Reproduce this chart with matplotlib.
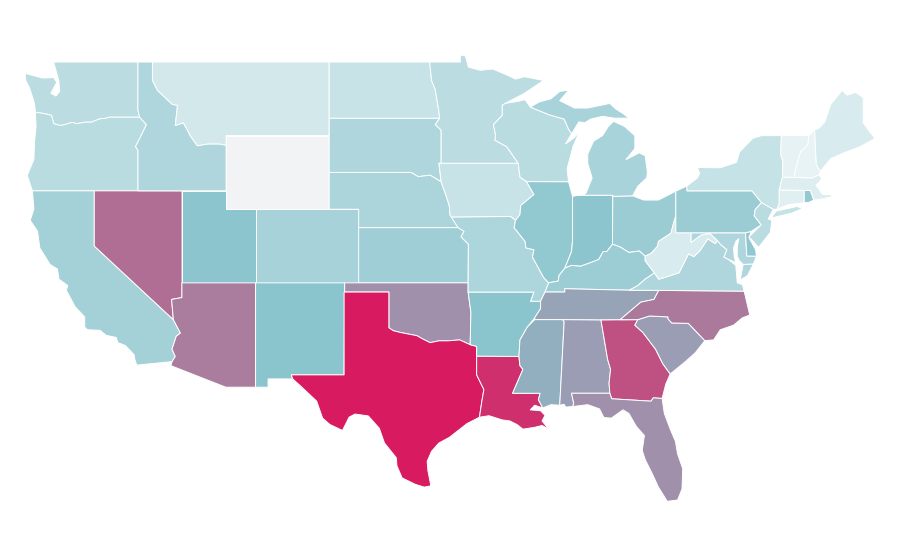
#%% Import modules
import numpy as np
import matplotlib.pyplot as plt
from matplotlib.collections import PolyCollection
from matplotlib.colors import LinearSegmentedColormap, Normalize

#%% Values (Wyoming has no data)
states = ['WA', 'OR', 'CA', 'NV', 'ID', 'MT', 'WY', 'UT', 'CO', 'AZ', 'NM', 'ND',
          'SD', 'NE', 'KS', 'OK', 'TX', 'LA', 'AR', 'MO', 'IA', 'MN', 'WI', 'IL',
          'IN', 'OH', 'MI', 'KY', 'TN', 'MS', 'AL', 'GA', 'FL', 'SC', 'NC', 'VA',
          'WV', 'MD', 'DE', 'PA', 'NJ', 'NY', 'CT', 'RI', 'MA', 'VT', 'NH', 'ME']
values = [25, 26, 36, 75, 31, 14, np.nan, 48, 35, 71, 49, 19,
          31, 33, 39, 65, 100, 94, 49, 32, 19, 25, 26, 45,
          48, 41, 34, 40, 59, 56, 61, 84, 65, 61, 72, 31,
          11, 31, 46, 41, 26, 20, 7, 44, 8, 4, 3, 11]

#%% State outlines, lon/lat
outlines = {
    'WA': [[(-124.7,48.38),(-123.5,48.13),(-122.75,48.15),(-122.55,47.9),(-122.95,47.3),(-122.6,47.15),(-122.35,47.4),(-122.4,47.95),(-122.55,48.4),(-122.76,49),(-117.03,49),(-117.04,46.42),(-116.92,46),(-118.98,46),(-119.3,45.93),(-119.6,45.92),(-120.2,45.73),(-120.65,45.73),(-121.2,45.65),(-121.5,45.72),(-122,45.6),(-122.3,45.55),(-122.75,45.65),(-122.9,46.1),(-123.4,46.2),(-124,46.27),(-124.05,46.7),(-124.15,47),(-124.4,47.6),(-124.65,48)]],
    'OR': [[(-124,46.27),(-123.4,46.2),(-122.9,46.1),(-122.75,45.65),(-122.3,45.55),(-122,45.6),(-121.5,45.72),(-121.2,45.65),(-120.65,45.73),(-120.2,45.73),(-119.6,45.92),(-119.3,45.93),(-118.98,46),(-116.92,46),(-116.46,45.6),(-116.85,44.95),(-117.2,44.4),(-117.03,44.2),(-117.03,42),(-124.2,42),(-124.55,42.84),(-124.1,43.7),(-124.05,44.7),(-123.95,45.5)]],
    'CA': [[(-124.2,42),(-120,42),(-120,39),(-114.63,35),(-114.15,34.27),(-114.43,34.1),(-114.72,33.4),(-114.5,33),(-114.72,32.72),(-117.12,32.53),(-117.25,32.85),(-117.3,33.1),(-117.9,33.6),(-118.4,33.75),(-118.5,34.03),(-119.2,34.15),(-119.6,34.42),(-120.47,34.45),(-120.65,34.6),(-120.65,35.15),(-121.3,35.7),(-121.9,36.6),(-121.8,36.85),(-122.4,37.2),(-122.5,37.75),(-123,38),(-123.7,38.9),(-123.85,39.8),(-124.35,40.4),(-124.1,41)]],
    'NV': [[(-120,42),(-114.04,42),(-114.04,37),(-114.05,36.2),(-114.75,36.1),(-114.63,35),(-120,39)]],
    'ID': [[(-117.03,49),(-116.05,49),(-116.05,48),(-115.7,47.45),(-114.7,46.7),(-114.35,46.65),(-114.5,45.55),(-113.95,45.7),(-113.45,44.95),(-113,44.45),(-112.3,44.55),(-111.5,44.55),(-111.05,44.48),(-111.05,42),(-117.03,42),(-117.03,44.2),(-117.2,44.4),(-116.85,44.95),(-116.46,45.6),(-116.92,46),(-117.04,46.42)]],
    'MT': [[(-116.05,49),(-104.05,49),(-104.05,45),(-111.05,45),(-111.05,44.48),(-111.5,44.55),(-112.3,44.55),(-113,44.45),(-113.45,44.95),(-113.95,45.7),(-114.5,45.55),(-114.35,46.65),(-114.7,46.7),(-115.7,47.45),(-116.05,48)]],
    'WY': [[(-111.05,45),(-104.05,45),(-104.05,41),(-111.05,41)]],
    'UT': [[(-114.05,42),(-111.05,42),(-111.05,41),(-109.05,41),(-109.05,37),(-114.05,37)]],
    'CO': [[(-109.05,41),(-102.05,41),(-102.05,37),(-109.05,37)]],
    'AZ': [[(-114.05,37),(-109.05,37),(-109.05,31.33),(-111.07,31.33),(-114.8,32.5),(-114.72,32.72),(-114.5,33),(-114.72,33.4),(-114.43,34.1),(-114.15,34.27),(-114.63,35),(-114.75,36.1),(-114.05,36.2)]],
    'NM': [[(-109.05,37),(-103,37),(-103.04,32),(-106.62,32),(-106.53,31.78),(-108.2,31.78),(-108.2,31.33),(-109.05,31.33)]],
    'ND': [[(-104.05,49),(-97.23,49),(-97.1,48),(-96.85,47.5),(-96.6,46.3),(-96.56,45.94),(-104.05,45.94)]],
    'SD': [[(-104.05,45.94),(-96.56,45.94),(-96.85,45.6),(-96.45,45.3),(-96.45,43.5),(-96.6,43.5),(-96.45,42.49),(-97.2,42.85),(-98,42.77),(-98.5,43),(-104.05,43)]],
    'NE': [[(-104.05,43),(-98.5,43),(-98,42.77),(-97.2,42.85),(-96.45,42.49),(-96.1,41.7),(-95.9,41.2),(-95.85,40.7),(-95.3,40),(-102.05,40),(-102.05,41),(-104.05,41)]],
    'KS': [[(-102.05,40),(-95.3,40),(-94.9,39.8),(-95.1,39.5),(-94.6,39.1),(-94.62,37),(-102.05,37)]],
    'OK': [[(-103,37),(-94.62,37),(-94.62,36.5),(-94.43,35.4),(-94.48,33.64),(-95.2,33.9),(-96,33.85),(-96.6,33.85),(-97.2,33.75),(-97.7,33.95),(-98.1,34.13),(-99.2,34.3),(-99.7,34.4),(-100,34.56),(-100,36.5),(-103,36.5)]],
    'TX': [[(-103.04,36.5),(-100,36.5),(-100,34.56),(-99.7,34.4),(-99.2,34.3),(-98.1,34.13),(-97.7,33.95),(-97.2,33.75),(-96.6,33.85),(-96,33.85),(-95.2,33.9),(-94.48,33.64),(-94.04,33.55),(-94.04,32),(-93.55,31.2),(-93.7,30.5),(-93.85,29.7),(-94.7,29.35),(-95.1,29.1),(-95.9,28.6),(-96.6,28.3),(-97.1,27.85),(-97.4,27.3),(-97.35,26.8),(-97.15,25.97),(-97.6,25.9),(-98.2,26.05),(-99.1,26.4),(-99.45,27.05),(-99.5,27.5),(-100.3,28.3),(-100.65,29.1),(-101.4,29.77),(-102.3,29.87),(-102.7,29.7),(-103.15,28.98),(-104,29.3),(-104.5,29.65),(-104.9,30.57),(-106,31.4),(-106.53,31.78),(-106.62,32),(-103.04,32)]],
    'LA': [[(-94.04,33.02),(-91.17,33),(-91.1,32.5),(-90.9,32.3),(-91.6,31),(-89.73,31),(-89.85,30.65),(-89.55,30.2),(-90.1,30.35),(-90.4,30.1),(-89.7,30.05),(-89.4,29.8),(-89.6,29.5),(-89.15,29.05),(-89.6,29.25),(-90.1,29.15),(-90.9,29.05),(-91.3,29.3),(-91.8,29.5),(-92.3,29.55),(-93.2,29.78),(-93.85,29.7),(-93.7,30.5),(-93.55,31.2),(-94.04,32)]],
    'AR': [[(-94.62,36.5),(-90.15,36.5),(-90.37,36),(-89.7,36),(-89.7,35.6),(-90.1,35.1),(-90.6,34.6),(-91.1,33.9),(-91.17,33),(-94.04,33.02),(-94.04,33.55),(-94.48,33.64),(-94.43,35.4)]],
    'MO': [[(-95.77,40.58),(-91.73,40.61),(-91.4,40.4),(-91.5,40),(-90.75,39.25),(-90.7,38.9),(-90.15,38.8),(-90.25,38.4),(-89.5,37.3),(-89.15,37),(-89.4,36.5),(-89.7,36),(-90.37,36),(-90.15,36.5),(-94.62,36.5),(-94.62,37),(-94.6,39.1),(-95.1,39.5),(-94.9,39.8),(-95.3,40)]],
    'IA': [[(-96.45,43.5),(-91.22,43.5),(-91.1,42.75),(-90.65,42.5),(-90.15,41.8),(-91.05,41.2),(-91.1,40.7),(-91.4,40.4),(-91.73,40.61),(-95.77,40.58),(-95.85,40.7),(-95.9,41.2),(-96.1,41.7),(-96.45,42.49),(-96.6,43.5)]],
    'MN': [[(-97.23,49),(-95.15,49),(-95.15,49.38),(-94.8,49.33),(-94.6,48.72),(-93.8,48.55),(-92.95,48.62),(-92,48.3),(-91.4,48.07),(-90.8,48.2),(-89.5,48),(-90.8,47.3),(-92.1,46.75),(-92.3,46.65),(-92.3,46.1),(-92.9,45.6),(-92.75,45),(-92.8,44.75),(-92,44.4),(-91.22,43.5),(-96.45,43.5),(-96.45,45.3),(-96.85,45.6),(-96.56,45.94),(-96.6,46.3),(-96.85,47.5),(-97.1,48)]],
    'WI': [[(-92.1,46.75),(-91.2,46.87),(-90.75,46.95),(-90.4,46.55),(-89.1,46.13),(-88.1,45.9),(-87.8,45.35),(-87.6,45.1),(-88,44.55),(-87.4,44.9),(-87.05,45.25),(-87.5,44.4),(-87.9,43.2),(-87.8,42.49),(-90.65,42.5),(-91.1,42.75),(-91.22,43.5),(-92,44.4),(-92.8,44.75),(-92.75,45),(-92.9,45.6),(-92.3,46.1),(-92.3,46.65)]],
    'IL': [[(-90.65,42.5),(-87.8,42.49),(-87.53,41.7),(-87.53,39.3),(-87.6,38.7),(-88.05,37.8),(-88.45,37.4),(-88.5,37.1),(-89.15,37),(-89.5,37.3),(-90.25,38.4),(-90.15,38.8),(-90.7,38.9),(-90.75,39.25),(-91.5,40),(-91.4,40.4),(-91.1,40.7),(-91.05,41.2),(-90.15,41.8)]],
    'IN': [[(-87.53,41.7),(-87.2,41.75),(-86.8,41.76),(-84.8,41.76),(-84.82,39.1),(-85.2,38.7),(-85.45,38.7),(-85.75,38.27),(-86.3,38.1),(-87,37.9),(-87.6,37.95),(-88.05,37.8),(-87.6,38.7),(-87.53,39.3)]],
    'OH': [[(-84.8,41.7),(-83.45,41.73),(-82.7,41.5),(-81.7,41.5),(-80.52,41.98),(-80.52,40.64),(-80.65,40.3),(-80.85,39.7),(-81.7,39.25),(-81.75,39),(-82.2,38.6),(-82.6,38.45),(-83,38.73),(-83.7,38.65),(-84.3,38.95),(-84.82,39.1)]],
    'MI': [[(-86.8,41.76),(-84.8,41.76),(-84.8,41.7),(-83.45,41.73),(-83.1,42.25),(-82.5,42.7),(-82.45,43),(-82.6,43.9),(-83,44.07),(-83.4,43.9),(-83.9,43.7),(-83.3,44.3),(-83.3,45),(-84,45.5),(-84.75,45.78),(-85.1,45.5),(-85.5,45),(-86.1,44.7),(-86.5,44),(-86.5,43.5),(-86.2,42.7),(-86.6,41.9)],
           [(-90.4,46.55),(-89.8,46.83),(-89,47),(-88.4,47.4),(-87.8,47.47),(-88.4,46.9),(-87.4,46.5),(-86.5,46.5),(-85,46.75),(-84.6,46.45),(-84.1,46.2),(-83.7,45.95),(-84.7,45.95),(-85.5,46.05),(-86.3,45.9),(-86.7,45.7),(-87.1,45.75),(-87.6,45.1),(-87.8,45.35),(-88.1,45.9),(-89.1,46.13)]],
    'KY': [[(-89.4,36.5),(-88.06,36.5),(-88.06,36.68),(-83.68,36.6),(-83.1,36.85),(-82.6,37.2),(-81.97,37.54),(-82.6,38.2),(-82.6,38.45),(-83,38.73),(-83.7,38.65),(-84.3,38.95),(-84.82,39.1),(-85.2,38.7),(-85.45,38.7),(-85.75,38.27),(-86.3,38.1),(-87,37.9),(-87.6,37.95),(-88.05,37.8),(-88.45,37.4),(-88.5,37.1),(-89.15,37)]],
    'TN': [[(-90.1,35),(-90.1,35.1),(-89.7,35.6),(-89.7,36),(-89.4,36.5),(-88.06,36.5),(-88.06,36.68),(-83.68,36.6),(-81.68,36.59),(-82,36.1),(-82.9,35.95),(-84.3,35),(-85.6,34.98),(-88.2,35)]],
    'MS': [[(-90.1,35),(-90.6,34.6),(-91.1,33.9),(-91.17,33),(-91.1,32.5),(-90.9,32.3),(-91.6,31),(-89.73,31),(-89.85,30.65),(-89.55,30.2),(-89,30.38),(-88.4,30.35),(-88.1,34.9),(-88.2,35)]],
    'AL': [[(-88.2,35),(-85.6,34.98),(-85.15,32.85),(-84.95,32.3),(-85.05,31.55),(-85,31),(-87.6,31),(-87.45,30.45),(-87.52,30.28),(-88,30.25),(-88.1,30.4),(-88.4,30.35),(-88.1,34.9)]],
    'GA': [[(-85.6,34.98),(-83.1,35),(-83.3,34.7),(-82.75,34.3),(-81.9,33.4),(-81.4,32.6),(-80.9,32.05),(-81.2,31.5),(-81.45,30.72),(-82.05,30.75),(-82.2,30.57),(-84.87,30.7),(-85,31),(-85.05,31.55),(-84.95,32.3),(-85.15,32.85)]],
    'FL': [[(-87.6,31),(-85,31),(-84.87,30.7),(-82.2,30.57),(-82.05,30.75),(-81.45,30.72),(-81.3,29.9),(-80.9,29.05),(-80.55,28.4),(-80.4,27.7),(-80.05,26.9),(-80.1,25.8),(-80.4,25.2),(-81.1,25.13),(-81.7,25.9),(-82.1,26.6),(-82.6,27.4),(-82.8,27.9),(-82.65,28.7),(-83.2,29.2),(-83.7,29.9),(-84.1,30.1),(-84.9,29.65),(-85.4,29.68),(-85.7,30.15),(-86.5,30.38),(-87.52,30.28),(-87.45,30.45)]],
    'SC': [[(-83.1,35),(-82.3,35.2),(-81.05,35.15),(-81.05,35.05),(-80.8,34.82),(-79.67,34.8),(-78.55,33.86),(-79.2,33.2),(-79.9,32.7),(-80.9,32.05),(-81.4,32.6),(-81.9,33.4),(-82.75,34.3),(-83.3,34.7)]],
    'NC': [[(-84.3,35),(-83.1,35),(-82.3,35.2),(-81.05,35.15),(-81.05,35.05),(-80.8,34.82),(-79.67,34.8),(-78.55,33.86),(-77.95,33.9),(-77.5,34.45),(-76.6,34.7),(-76,35.1),(-75.5,35.25),(-75.88,36.55),(-81.68,36.59),(-82,36.1),(-82.9,35.95)]],
    'VA': [[(-83.68,36.6),(-81.68,36.59),(-75.88,36.55),(-76,36.9),(-76.35,37),(-76.4,37.5),(-76.45,37.95),(-77,38.3),(-77.25,38.4),(-77.05,38.8),(-77.5,39.1),(-77.72,39.32),(-77.83,39.13),(-78.35,39.39),(-78.87,38.76),(-79.3,38.42),(-79.65,38.58),(-80.3,37.55),(-81.25,37.3),(-81.68,37.2),(-81.97,37.54),(-82.6,37.2),(-83.1,36.85)],
           [(-75.25,38.03),(-75.95,38),(-76.15,37.15),(-75.65,37.4)]],
    'WV': [[(-81.97,37.54),(-82.6,38.2),(-82.6,38.45),(-82.2,38.6),(-81.75,39),(-81.7,39.25),(-80.85,39.7),(-80.65,40.3),(-80.52,40.64),(-80.52,39.72),(-79.48,39.72),(-79.48,39.2),(-78.8,39.6),(-78.2,39.68),(-77.72,39.32),(-77.83,39.13),(-78.35,39.39),(-78.87,38.76),(-79.3,38.42),(-79.65,38.58),(-80.3,37.55),(-81.25,37.3),(-81.68,37.2)]],
    'MD': [[(-79.48,39.72),(-75.79,39.72),(-75.7,38.46),(-75.05,38.45),(-75.25,38.03),(-75.95,38),(-76.2,38.2),(-76.35,38.45),(-76.35,38.9),(-76.25,39.4),(-76.45,39.25),(-76.6,38.9),(-76.55,38.4),(-76.45,38.1),(-77,38.3),(-77.25,38.4),(-77.05,38.8),(-77.5,39.1),(-77.72,39.32),(-78.2,39.68),(-78.8,39.6),(-79.48,39.2)]],
    'DE': [[(-75.79,39.72),(-75.4,39.8),(-75.55,39.45),(-75.1,38.8),(-75.05,38.45),(-75.7,38.46)]],
    'PA': [[(-80.52,41.98),(-79.76,42.27),(-79.76,42),(-75.35,42),(-74.7,41.36),(-75.13,40.98),(-75.2,40.65),(-74.72,40.15),(-75.4,39.8),(-75.79,39.72),(-80.52,39.72)]],
    'NJ': [[(-74.7,41.36),(-73.9,41),(-74.25,40.47),(-74,40.4),(-74.1,39.75),(-74.9,38.93),(-75.55,39.5),(-74.72,40.15),(-75.2,40.65),(-75.13,40.98)]],
    'NY': [[(-79.76,42.27),(-79.05,42.7),(-78.9,42.95),(-79.05,43.27),(-77.5,43.25),(-76.4,43.55),(-76.2,44.1),(-75.3,44.85),(-74.7,45),(-73.35,45),(-73.4,44),(-73.25,43.6),(-73.28,42.75),(-73.5,42.05),(-73.5,41.3),(-73.65,41),(-73.9,41),(-74.7,41.36),(-75.35,42),(-79.76,42)],
           [(-74,40.6),(-73.7,40.9),(-72.3,41.15),(-71.9,41.05),(-72.6,40.8),(-73.9,40.55)]],
    'CT': [[(-73.5,42.05),(-71.8,42.02),(-71.8,41.35),(-72.9,41.25),(-73.65,41),(-73.5,41.3)]],
    'RI': [[(-71.8,42.02),(-71.38,42.02),(-71.15,41.5),(-71.5,41.37),(-71.8,41.35)]],
    'MA': [[(-73.5,42.05),(-73.28,42.75),(-71.3,42.7),(-70.8,42.87),(-70.6,42.65),(-71,42.3),(-70.55,41.8),(-70,41.8),(-70.05,42.05),(-69.95,41.67),(-70.65,41.55),(-71.15,41.5),(-71.38,42.02)]],
    'VT': [[(-73.35,45),(-71.5,45),(-71.55,44.5),(-72.05,44.1),(-72.45,43),(-72.46,42.73),(-73.28,42.75),(-73.25,43.6),(-73.4,44)]],
    'NH': [[(-71.5,45),(-71.1,45.3),(-70.98,43.4),(-70.7,43.07),(-70.8,42.87),(-71.3,42.7),(-72.46,42.73),(-72.45,43),(-72.05,44.1),(-71.55,44.5)]],
    'ME': [[(-71.1,45.3),(-70.8,45.4),(-70.4,45.75),(-70,46.7),(-69.23,47.46),(-68.9,47.2),(-68.3,47.35),(-67.8,47.07),(-67.8,45.7),(-67.45,45.3),(-67,44.85),(-68,44.4),(-69,44.1),(-70,43.75),(-70.7,43.07),(-70.98,43.4)]],
}

#%% Plot
cmap = LinearSegmentedColormap.from_list('cases', ['#eef6f7', '#88c3cc', '#d81b60'])
cmap.set_bad('#f2f3f5')

rings = []
ring_values = []
for state, value in zip(states, values):
    for ring in outlines[state]:
        rings.append(ring)
        ring_values.append(value)

fig = plt.figure(figsize=(9, 5.6), dpi=100)
ax = fig.add_axes([0, 0, 1, 1])
shapes = PolyCollection(rings, array=np.ma.masked_invalid(ring_values), cmap=cmap,
                        norm=Normalize(0, 100), edgecolors='white', linewidths=0.7)
ax.add_collection(shapes)
ax.set_xlim(-126.4, -65.3)
ax.set_ylim(21.94, 52.37)
ax.axis('off')
fig.savefig('out.png', dpi=100)
